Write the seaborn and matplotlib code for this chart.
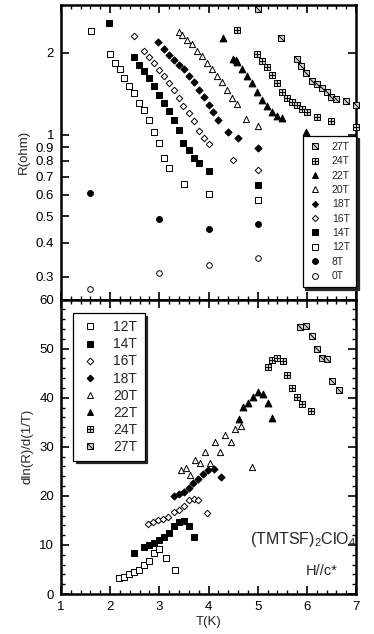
import matplotlib
matplotlib.use("Agg")
import matplotlib.pyplot as plt
from matplotlib.lines import Line2D
from matplotlib.ticker import FixedLocator, FixedFormatter, MultipleLocator, NullLocator
import seaborn as sns

# ---- R(T) data, top panel ----
t0 = [1.6, 3.0, 4.0, 5.0]
r0 = [0.27, 0.31, 0.33, 0.35]
t8 = [1.6, 3.0, 4.0, 5.0]
r8 = [0.61, 0.49, 0.45, 0.47]
t12 = [1.62, 2.0, 2.1, 2.2, 2.29, 2.39, 2.48, 2.59, 2.69, 2.79, 2.89, 2.99, 3.09, 3.2, 3.5, 4.0, 5.0]
r12 = [2.41, 1.98, 1.83, 1.74, 1.62, 1.51, 1.42, 1.31, 1.23, 1.13, 1.02, 0.93, 0.82, 0.755, 0.66, 0.605, 0.573]
t14 = [1.98, 2.49, 2.59, 2.69, 2.79, 2.89, 2.99, 3.09, 3.19, 3.29, 3.39, 3.49, 3.6, 3.7, 3.8, 4.0, 5.0]
r14 = [2.58, 1.93, 1.81, 1.71, 1.61, 1.51, 1.40, 1.31, 1.22, 1.13, 1.04, 0.934, 0.878, 0.817, 0.783, 0.734, 0.655]
t16 = [2.49, 2.69, 2.79, 2.9, 3.0, 3.1, 3.2, 3.3, 3.4, 3.49, 3.6, 3.7, 3.8, 3.9, 4.0, 4.49, 5.0]
r16 = [2.31, 2.03, 1.93, 1.83, 1.73, 1.64, 1.55, 1.46, 1.37, 1.28, 1.20, 1.12, 1.03, 0.975, 0.926, 0.806, 0.744]
t18 = [2.97, 3.09, 3.19, 3.3, 3.39, 3.5, 3.6, 3.7, 3.8, 3.9, 4.0, 4.1, 4.2, 4.39, 4.6, 5.0]
r18 = [2.20, 2.06, 1.97, 1.89, 1.80, 1.74, 1.64, 1.56, 1.46, 1.38, 1.29, 1.21, 1.13, 1.02, 0.969, 0.89]
t20 = [3.4, 3.47, 3.57, 3.67, 3.77, 3.87, 3.97, 4.08, 4.17, 4.28, 4.38, 4.48, 4.58, 4.77, 5.0]
r20 = [2.39, 2.32, 2.23, 2.15, 2.04, 1.94, 1.83, 1.75, 1.64, 1.56, 1.46, 1.37, 1.30, 1.14, 1.08]
t22 = [4.29, 4.49, 4.56, 4.58, 4.68, 4.79, 4.89, 4.99, 5.09, 5.19, 5.29, 5.4, 5.49, 5.99]
r22 = [2.26, 1.90, 1.88, 1.85, 1.74, 1.65, 1.55, 1.44, 1.34, 1.27, 1.21, 1.17, 1.15, 1.02]
t24 = [4.58, 4.99, 5.09, 5.19, 5.29, 5.4, 5.5, 5.6, 5.7, 5.8, 5.9, 6.0, 6.2, 6.49, 7.0]
r24 = [2.43, 1.98, 1.86, 1.77, 1.66, 1.55, 1.44, 1.37, 1.32, 1.29, 1.24, 1.21, 1.16, 1.12, 1.07]
t27 = [5.0, 5.47, 5.79, 5.89, 5.99, 6.1, 6.2, 6.3, 6.4, 6.5, 6.6, 6.79, 7.0]
r27 = [2.90, 2.26, 1.90, 1.79, 1.69, 1.58, 1.54, 1.48, 1.43, 1.38, 1.35, 1.33, 1.29]

# ---- dln(R)/d(1/T) data, bottom panel ----
d12_t = [2.18, 2.29, 2.39, 2.48, 2.59, 2.69, 2.79, 2.89, 2.99, 3.13, 3.32]
d12 = [3.2, 3.5, 4.0, 4.4, 5.0, 5.9, 6.7, 8.3, 9.1, 7.4, 5.0]
d14_t = [2.48, 2.69, 2.79, 2.89, 2.99, 3.09, 3.2, 3.29, 3.4, 3.5, 3.6, 3.71]
d14 = [8.3, 9.5, 9.9, 10.5, 11.1, 11.6, 12.5, 13.9, 14.7, 14.9, 13.9, 11.6]
d16_t = [2.76, 2.88, 2.98, 3.08, 3.18, 3.3, 3.4, 3.5, 3.6, 3.7, 3.79, 3.96]
d16 = [14.2, 14.7, 15.0, 15.2, 15.7, 16.7, 17.2, 17.9, 19.1, 19.4, 19.2, 16.5]
d18_t = [3.3, 3.4, 3.5, 3.6, 3.69, 3.79, 3.89, 3.99, 4.11, 4.25]
d18 = [19.9, 20.4, 20.7, 21.6, 22.7, 23.4, 24.5, 25.2, 25.5, 23.8]
d20_t = [3.45, 3.54, 3.62, 3.72, 3.83, 3.93, 4.03, 4.13, 4.23, 4.34, 4.45, 4.54, 4.67, 4.89]
d20 = [25.2, 25.6, 24.3, 27.3, 26.6, 29.0, 26.6, 30.9, 28.9, 32.5, 31.0, 33.6, 34.3, 25.8]
d22_t = [4.62, 4.71, 4.81, 4.9, 5.0, 5.1, 5.2, 5.3]
d22 = [35.6, 38.2, 38.9, 40.2, 41.2, 40.8, 38.9, 35.8]
d24_t = [5.2, 5.3, 5.4, 5.51, 5.6, 5.7, 5.8, 5.91, 6.08]
d24 = [46.2, 47.6, 48.1, 47.4, 44.6, 41.9, 40.2, 38.7, 37.2]
d27_t = [5.86, 5.99, 6.11, 6.2, 6.3, 6.4, 6.52, 6.66]
d27 = [54.4, 54.7, 52.5, 50.0, 48.1, 47.8, 43.5, 41.6]

r_ticks = [0.3, 0.4, 0.5, 0.6, 0.7, 0.8, 0.9, 1, 2]
r_labels = ["0.3", "0.4", "0.5", "0.6", "0.7", "0.8", "0.9", "1", "2"]

# marker style per field: (marker, face, size, overlay marker)
styles = {
    "0T": ("o", "white", 16, None),
    "8T": ("o", "black", 18, None),
    "12T": ("s", "white", 22, None),
    "14T": ("s", "black", 22, None),
    "16T": ("D", "white", 11, None),
    "18T": ("D", "black", 13, None),
    "20T": ("^", "white", 20, None),
    "22T": ("^", "black", 24, None),
    "24T": ("s", "#d0d0d0", 22, "+"),
    "27T": ("s", "#d0d0d0", 22, [(-1, 1), (1, -1)]),
}

sns.set_theme(style="ticks")
plt.rcParams["font.family"] = ["Liberation Sans", "DejaVu Sans"]
plt.rcParams["mathtext.fontset"] = "custom"
plt.rcParams["mathtext.rm"] = "Liberation Sans"
plt.rcParams.update({
    "xtick.direction": "in", "ytick.direction": "in",
    "xtick.top": True, "ytick.right": True,
    "xtick.major.size": 6, "ytick.major.size": 6,
    "xtick.minor.size": 3, "ytick.minor.size": 3,
    "xtick.major.width": 1.2, "ytick.major.width": 1.2,
    "xtick.minor.width": 1, "ytick.minor.width": 1,
    "xtick.major.pad": 5, "ytick.major.pad": 5,
    "axes.linewidth": 1.8, "axes.edgecolor": "black",
    "xtick.color": "black", "ytick.color": "black",
    "xtick.labelsize": 9.5, "ytick.labelsize": 9.5,
    "axes.labelsize": 9.5,
})


def draw(ax, t, v, key):
    m, face, s, over = styles[key]
    sns.scatterplot(x=t, y=v, ax=ax, marker=m, color=face, edgecolor="black",
                    linewidth=0.7, s=s, clip_on=False, zorder=3)
    if over is not None:
        sns.scatterplot(x=t, y=v, ax=ax, marker=over, color="black", edgecolor="black",
                        linewidth=0.7, s=s, clip_on=False, zorder=4)


def handle(key, ms):
    m, face, s, over = styles[key]
    base = Line2D([], [], marker=m, mfc=face, mec="black", mew=0.7, ls="none",
                  ms=ms * (0.75 if m == "D" else 1.0))
    if over is None:
        return base
    top = Line2D([], [], marker=over, color="black", mec="black", mew=0.7, ls="none", ms=ms)
    return (base, top)


fig, (ax1, ax2) = plt.subplots(2, 1, figsize=(3.74, 6.34), dpi=100, sharex=True)
fig.subplots_adjust(left=0.163, right=0.952, bottom=0.063, top=0.992, hspace=0)

top_sets = [("27T", t27, r27), ("24T", t24, r24), ("22T", t22, r22), ("20T", t20, r20),
            ("18T", t18, r18), ("16T", t16, r16), ("14T", t14, r14), ("12T", t12, r12),
            ("8T", t8, r8), ("0T", t0, r0)]
for key, t, r in top_sets:
    draw(ax1, t, r, key)

ax1.set_yscale("log")
ax1.set_ylim(0.247, 3.0)
ax1.yaxis.set_major_locator(FixedLocator(r_ticks))
ax1.yaxis.set_major_formatter(FixedFormatter(r_labels))
ax1.yaxis.set_minor_locator(NullLocator())
ax1.set_ylabel("R(ohm)")
ax1.tick_params(axis="x", which="both", labelbottom=False)

bot_sets = [("12T", d12_t, d12), ("14T", d14_t, d14), ("16T", d16_t, d16), ("18T", d18_t, d18),
            ("20T", d20_t, d20), ("22T", d22_t, d22), ("24T", d24_t, d24), ("27T", d27_t, d27)]
for key, t, v in bot_sets:
    draw(ax2, t, v, key)

ax2.set_ylim(0, 60)
ax2.yaxis.set_major_locator(MultipleLocator(10))
ax2.yaxis.set_minor_locator(MultipleLocator(2))
ax2.set_xlim(1, 7)
ax2.xaxis.set_major_locator(MultipleLocator(1))
ax2.xaxis.set_minor_locator(MultipleLocator(0.2))
ax2.set_xlabel("T(K)", labelpad=2)
ax2.set_ylabel("dln(R)/d(1/T)")

for ax in (ax1, ax2):
    ax.tick_params(which="both", top=True, right=True, direction="in")

shadow = {"facecolor": "0.15", "edgecolor": "0.15", "alpha": 1}
leg_kw = dict(frameon=True, fancybox=False, edgecolor="black", framealpha=1,
              shadow=shadow, borderaxespad=0)

ax1.legend([handle(k, 4.2) for k, _, _ in top_sets], [k for k, _, _ in top_sets],
           loc="lower right", bbox_to_anchor=(1.0, 0.041), fontsize=7.5,
           labelspacing=0.42, handlelength=1.2, handletextpad=1.0, borderpad=0.6,
           borderaxespad=0, **{k: v for k, v in leg_kw.items() if k != "borderaxespad"})
ax1.get_legend().get_frame().set_linewidth(0.9)

ax2.legend([handle(k, 4.6) for k, _, _ in bot_sets], [k for k, _, _ in bot_sets],
           loc="upper left", bbox_to_anchor=(0.041, 0.953), fontsize=10,
           labelspacing=0.22, handlelength=1.4, handletextpad=1.0, borderpad=0.5,
           borderaxespad=0, **{k: v for k, v in leg_kw.items() if k != "borderaxespad"})
ax2.get_legend().get_frame().set_linewidth(0.9)

ax2.text(7.0, 10.3, "(TMTSF)$_2$ClO$_4$", ha="right", va="baseline", fontsize=11.5)
ax2.text(6.63, 4.7, "H//c*", ha="right", va="center", fontsize=10.5)

fig.savefig("out.png", dpi=100)
